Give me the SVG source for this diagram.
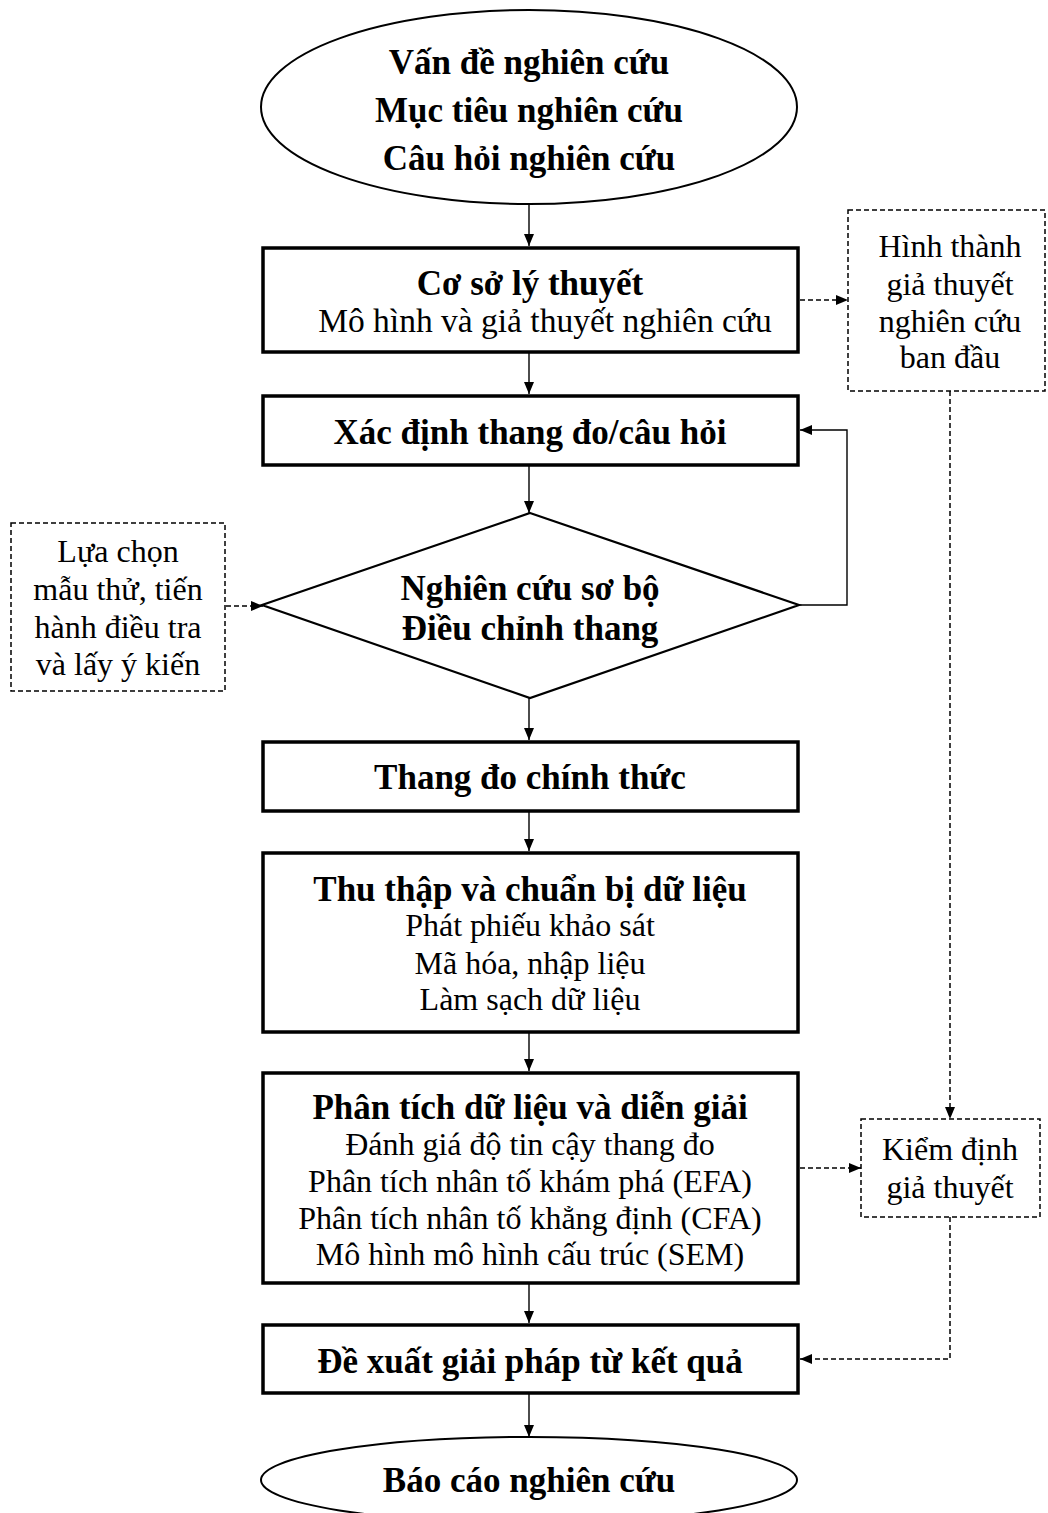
<svg xmlns="http://www.w3.org/2000/svg" width="1048" height="1513" viewBox="0 0 1048 1513">
  <style>
    .bg { fill: #ffffff; }
    .term { fill: #ffffff; stroke: #000; stroke-width: 2; }
    .box { fill: #ffffff; stroke: #000; stroke-width: 3.5; }
    .dia { fill: #ffffff; stroke: #000; stroke-width: 2.2; }
    .note { fill: #ffffff; stroke: #000; stroke-width: 1.5; stroke-dasharray: 5 3; }
    .link { fill: none; stroke: #000; stroke-width: 1.4; }
    .dlink { fill: none; stroke: #000; stroke-width: 1.5; stroke-dasharray: 5 3; }
    text { font-family: "Liberation Serif", "Times New Roman", serif; fill: #000; text-anchor: middle; }
    .h { font-size: 35px; font-weight: bold; }
    .t { font-size: 32px; }
    .t2 { font-size: 33.5px; }
  </style>
  <defs>
    <marker id="arrow" viewBox="0 0 12 10" refX="12" refY="5" markerWidth="12" markerHeight="10" markerUnits="userSpaceOnUse" orient="auto">
      <path d="M0,0 L12,5 L0,10 Z" fill="#000"/>
    </marker>
  </defs>
  <rect class="bg" x="0" y="0" width="1048" height="1513"/>

  <g id="connectors">
    <line class="link" x1="529" y1="204" x2="529" y2="246" marker-end="url(#arrow)"/>
    <line class="link" x1="529" y1="352" x2="529" y2="394" marker-end="url(#arrow)"/>
    <line class="link" x1="529" y1="466" x2="529" y2="513" marker-end="url(#arrow)"/>
    <line class="link" x1="529" y1="698" x2="529" y2="740" marker-end="url(#arrow)"/>
    <line class="link" x1="529" y1="812" x2="529" y2="851" marker-end="url(#arrow)"/>
    <line class="link" x1="529" y1="1033" x2="529" y2="1071" marker-end="url(#arrow)"/>
    <line class="link" x1="529" y1="1284" x2="529" y2="1323" marker-end="url(#arrow)"/>
    <line class="link" x1="529" y1="1394" x2="529" y2="1437" marker-end="url(#arrow)"/>
    <polyline class="link" points="799,605 847,605 847,430 800,430" marker-end="url(#arrow)"/>
    <line class="dlink" x1="800" y1="300" x2="848" y2="300" marker-end="url(#arrow)"/>
    <line class="dlink" x1="950" y1="391" x2="950" y2="1119" marker-end="url(#arrow)"/>
    <line class="dlink" x1="226" y1="606" x2="263" y2="606" marker-end="url(#arrow)"/>
    <line class="dlink" x1="800" y1="1168" x2="861" y2="1168" marker-end="url(#arrow)"/>
    <polyline class="dlink" points="950,1217 950,1359 800,1359" marker-end="url(#arrow)"/>
  </g>

  <g id="start">
    <ellipse class="term" cx="529" cy="107" rx="268" ry="97"/>
    <text class="h" x="529" y="74">Vấn đề nghiên cứu</text>
    <text class="h" x="529" y="122">Mục tiêu nghiên cứu</text>
    <text class="h" x="529" y="170">Câu hỏi nghiên cứu</text>
  </g>

  <g id="theory">
    <rect class="box" x="263" y="248" width="535" height="104"/>
    <text class="h" x="530" y="295">Cơ sở lý thuyết</text>
    <text class="t2" x="545" y="332">Mô hình và giả thuyết nghiên cứu</text>
  </g>

  <g id="hypothesis-init">
    <rect class="note" x="848" y="210" width="197" height="181"/>
    <text class="t" x="950" y="257">Hình thành</text>
    <text class="t" x="950" y="295">giả thuyết</text>
    <text class="t" x="950" y="332">nghiên cứu</text>
    <text class="t" x="950" y="368">ban đầu</text>
  </g>

  <g id="scale">
    <rect class="box" x="263" y="396" width="535" height="69"/>
    <text class="h" x="530" y="444">Xác định thang đo/câu hỏi</text>
  </g>

  <g id="pilot">
    <polygon class="dia" points="530,513 799,605 530,698 262,605"/>
    <text class="h" x="530" y="600">Nghiên cứu sơ bộ</text>
    <text class="h" x="530" y="640">Điều chỉnh thang</text>
  </g>

  <g id="sampling">
    <rect class="note" x="11" y="523" width="214" height="168"/>
    <text class="t" x="118" y="562">Lựa chọn</text>
    <text class="t" x="118" y="600">mẫu thử, tiến</text>
    <text class="t" x="118" y="638">hành điều tra</text>
    <text class="t" x="118" y="675">và lấy ý kiến</text>
  </g>

  <g id="final-scale">
    <rect class="box" x="263" y="742" width="535" height="69"/>
    <text class="h" x="530" y="789">Thang đo chính thức</text>
  </g>

  <g id="data-collection">
    <rect class="box" x="263" y="853" width="535" height="179"/>
    <text class="h" x="530" y="901">Thu thập và chuẩn bị dữ liệu</text>
    <text class="t" x="530" y="936">Phát phiếu khảo sát</text>
    <text class="t" x="530" y="974">Mã hóa, nhập liệu</text>
    <text class="t" x="530" y="1010">Làm sạch dữ liệu</text>
  </g>

  <g id="analysis">
    <rect class="box" x="263" y="1073" width="535" height="210"/>
    <text class="h" x="530" y="1119">Phân tích dữ liệu và diễn giải</text>
    <text class="t" x="530" y="1155">Đánh giá độ tin cậy thang đo</text>
    <text class="t" x="530" y="1192">Phân tích nhân tố khám phá (EFA)</text>
    <text class="t" x="530" y="1229">Phân tích nhân tố khẳng định (CFA)</text>
    <text class="t" x="530" y="1265">Mô hình mô hình cấu trúc (SEM)</text>
  </g>

  <g id="hypothesis-test">
    <rect class="note" x="861" y="1119" width="179" height="98"/>
    <text class="t" x="950" y="1160">Kiểm định</text>
    <text class="t" x="950" y="1198">giả thuyết</text>
  </g>

  <g id="proposal">
    <rect class="box" x="263" y="1325" width="535" height="68"/>
    <text class="h" x="530" y="1373">Đề xuất giải pháp từ kết quả</text>
  </g>

  <g id="report">
    <ellipse class="term" cx="529" cy="1480" rx="268" ry="43"/>
    <text class="h" x="529" y="1492">Báo cáo nghiên cứu</text>
  </g>
</svg>
